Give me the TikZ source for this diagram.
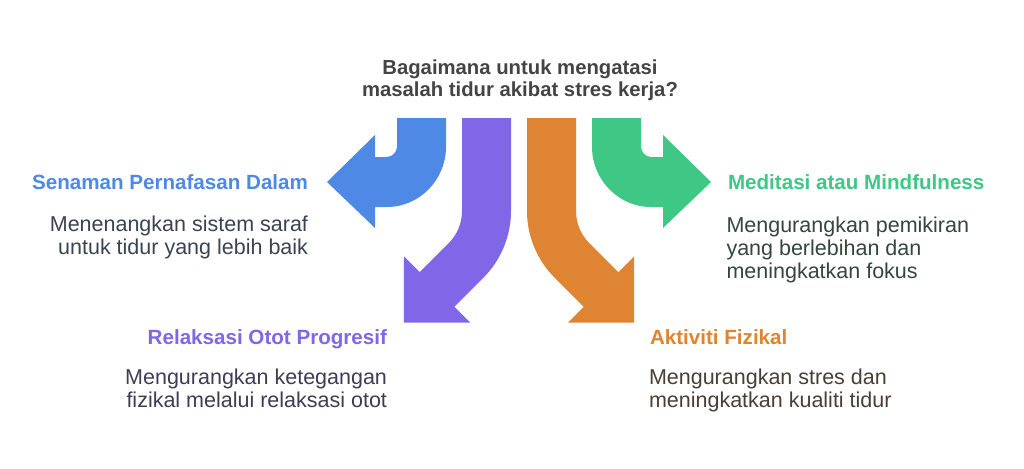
\documentclass[tikz,border=0pt]{standalone}
\usepackage{fontspec}
\setmainfont{Liberation Sans}
\definecolor{cblue}{HTML}{4E89E6}
\definecolor{cpurple}{HTML}{7F67E8}
\definecolor{corange}{HTML}{DE8432}
\definecolor{cgreen}{HTML}{3EC785}
\definecolor{ctitle}{HTML}{444444}
\definecolor{tblue}{HTML}{3B4352}
\definecolor{tpurple}{HTML}{403C55}
\definecolor{torange}{HTML}{4A3F36}
\definecolor{tgreen}{HTML}{36463F}
\begin{document}
\begin{tikzpicture}[x=1pt,y=-1pt,
  txt/.style={inner sep=0pt,outer sep=0pt},
  titletxt/.style={txt,anchor=base,font=\fontsize{20.3}{22}\selectfont\bfseries,text=ctitle},
  head/.style={txt,font=\fontsize{20.6}{22}\selectfont\bfseries},
  body/.style={txt,font=\fontsize{21.5}{23}\selectfont}]
\useasboundingbox[fill=white] (0,0) rectangle (1024,468);
% title
\node[titletxt] (t1) at (520,75) {Bagaimana untuk mengatasi};
\node[titletxt] (t2) at (520,97) {masalah tidur akibat stres kerja?};
% blue arrow
\fill[cblue] (397,118) -- (446,118) -- (446,147)
  .. controls (446,179.6) and (419.6,207) .. (387,207)
  -- (375,207) -- (375,228) -- (327,182) -- (375,135) -- (375,157) -- (387,157)
  .. controls (392.5,157) and (397,151.5) .. (397,147) -- cycle;
% green arrow
\fill[cgreen] (641,118) -- (592,118) -- (592,147)
  .. controls (592,179.6) and (618.4,207) .. (651,207)
  -- (663,207) -- (663,228) -- (711,182) -- (663,135) -- (663,157) -- (651,157)
  .. controls (645.5,157) and (641,151.5) .. (641,147) -- cycle;
% purple arrow
\fill[cpurple] (462,118) -- (511,118) -- (511,211)
  .. controls (511,236.06) and (501.0,260.1) .. (483.3,277.8)
  -- (454.3,306.8) -- (470.2,322.7) -- (403.8,322.7) -- (403.8,256.3) -- (419.7,272.2) -- (448.7,243.2)
  .. controls (457.2,234.7) and (462,223.07) .. (462,211) -- cycle;
% orange arrow
\fill[corange] (576,118) -- (527,118) -- (527,211)
  .. controls (527,236.06) and (537,260.1) .. (554.7,277.8)
  -- (583.7,306.8) -- (567.8,322.7) -- (634.2,322.7) -- (634.2,256.3) -- (618.3,272.2) -- (589.3,243.2)
  .. controls (580.8,234.7) and (576,223.07) .. (576,211) -- cycle;
% blue texts
\node[head,text=cblue,anchor=base east] (bh) at (308,189.5) {Senaman Pernafasan Dalam};
\node[body,text=tblue,anchor=base east] (bb1) at (308,231.5) {Menenangkan sistem saraf};
\node[body,text=tblue,anchor=base east] (bb2) at (308,254) {untuk tidur yang lebih baik};
% green texts
\node[head,text=cgreen,anchor=base west] (gh) at (728,189.5) {Meditasi atau Mindfulness};
\node[body,text=tgreen,anchor=base west] (gb1) at (726.5,232.7) {Mengurangkan pemikiran};
\node[body,text=tgreen,anchor=base west] (gb2) at (726.5,255.2) {yang berlebihan dan};
\node[body,text=tgreen,anchor=base west] (gb3) at (726.5,278) {meningkatkan fokus};
% purple texts
\node[head,text=cpurple,anchor=base east] (ph) at (387,344) {Relaksasi Otot Progresif};
\node[body,text=tpurple,anchor=base east] (pb1) at (387,384) {Mengurangkan ketegangan};
\node[body,text=tpurple,anchor=base east] (pb2) at (387,407) {fizikal melalui relaksasi otot};
% orange texts
\node[head,text=corange,anchor=base west] (oh) at (650,344) {Aktiviti Fizikal};
\node[body,text=torange,anchor=base west] (ob1) at (649,384) {Mengurangkan stres dan};
\node[body,text=torange,anchor=base west] (ob2) at (649,407) {meningkatkan kualiti tidur};
\end{tikzpicture}
\end{document}
